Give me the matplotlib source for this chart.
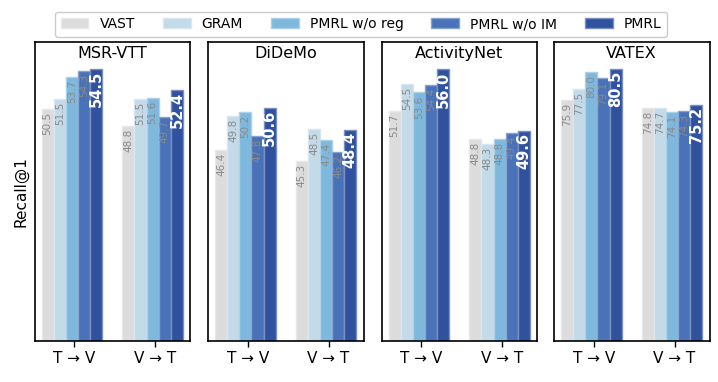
import matplotlib
matplotlib.use("Agg")
import matplotlib.pyplot as plt
import numpy as np
from matplotlib.colors import to_rgb

datasets = ["MSR-VTT", "DiDeMo", "ActivityNet", "VATEX"]
directions = ["T → V", "V → T"]
methods = ["VAST", "GRAM", "PMRL w/o reg", "PMRL w/o IM", "PMRL"]

# values[method] -> per dataset [T->V, V->T]
vast       = [[50.5, 48.8], [46.4, 45.3], [51.7, 48.8], [75.9, 74.8]]
gram       = [[51.5, 51.5], [49.8, 48.5], [54.5, 48.3], [77.5, 74.7]]
pmrl_noreg = [[53.7, 51.6], [50.2, 47.4], [53.6, 48.8], [80.0, 74.1]]
pmrl_noim  = [[54.3, 49.7], [47.8, 46.2], [54.4, 49.4], [79.1, 74.3]]
pmrl       = [[54.5, 52.4], [50.6, 48.4], [56.0, 49.6], [80.5, 75.2]]
series = [vast, gram, pmrl_noreg, pmrl_noim, pmrl]

colors = ["#dcdcdc", "#c3dae9", "#7fb8dd", "#4a72b8", "#30529e"]
ylims = [(27.25, 57.2), (27.25, 57.2), (28.0, 58.8), (40.25, 84.5)]

def lighten(c, f):
    r, g, b = to_rgb(c)
    return (r + (1 - r) * f, g + (1 - g) * f, b + (1 - b) * f)

fig = plt.figure(figsize=(7.18, 3.82), dpi=100)
W, H = 718, 382
lefts = [34.5, 208, 381.5, 554]
pw = 155.5
top_px, bot_px = 42, 341

x = np.arange(len(directions))
w = 0.15
axes = []
for d, name in enumerate(datasets):
    ax = fig.add_axes([lefts[d] / W, 1 - bot_px / H, pw / W, (bot_px - top_px) / H])
    axes.append(ax)
    for m in range(len(methods)):
        vals = [series[m][d][0], series[m][d][1]]
        pos = x + (m - 2) * w
        bars = ax.bar(pos, vals, width=w, color=colors[m],
                      edgecolor=lighten(colors[m], 0.35), linewidth=1.0,
                      label=methods[m] if d == 0 else None)
        for p, v in zip(pos, vals):
            if m == len(methods) - 1:
                ax.annotate(f"{v:.1f}", (p, v), xytext=(0, -1.5), textcoords="offset points",
                            rotation=90, ha="center", va="top", color="white",
                            fontsize=10.5, fontweight="bold")
            else:
                ax.annotate(f"{v:.1f}", (p, v), xytext=(0, -2), textcoords="offset points",
                            rotation=90, ha="center", va="top", color="#8a8a8a",
                            fontsize=7.5)
    ax.set_ylim(*ylims[d])
    ax.set_xticks(x + 0.03)
    ax.set_xticklabels(directions, fontsize=11)
    ax.set_yticks([])
    ax.tick_params(axis="x", length=4, width=1)
    for s in ax.spines.values():
        s.set_linewidth(1.2)
        s.set_color("black")
    ax.text(0.5, 0.985, name, transform=ax.transAxes, ha="center", va="top", fontsize=11.5)

axes[0].set_ylabel("Recall@1", fontsize=11)
fig.legend(loc="center", bbox_to_anchor=(0.503, 0.937), ncol=5, fontsize=10,
           frameon=True, fancybox=True, edgecolor="#cccccc", framealpha=1)
fig.savefig("out.png", dpi=100)
